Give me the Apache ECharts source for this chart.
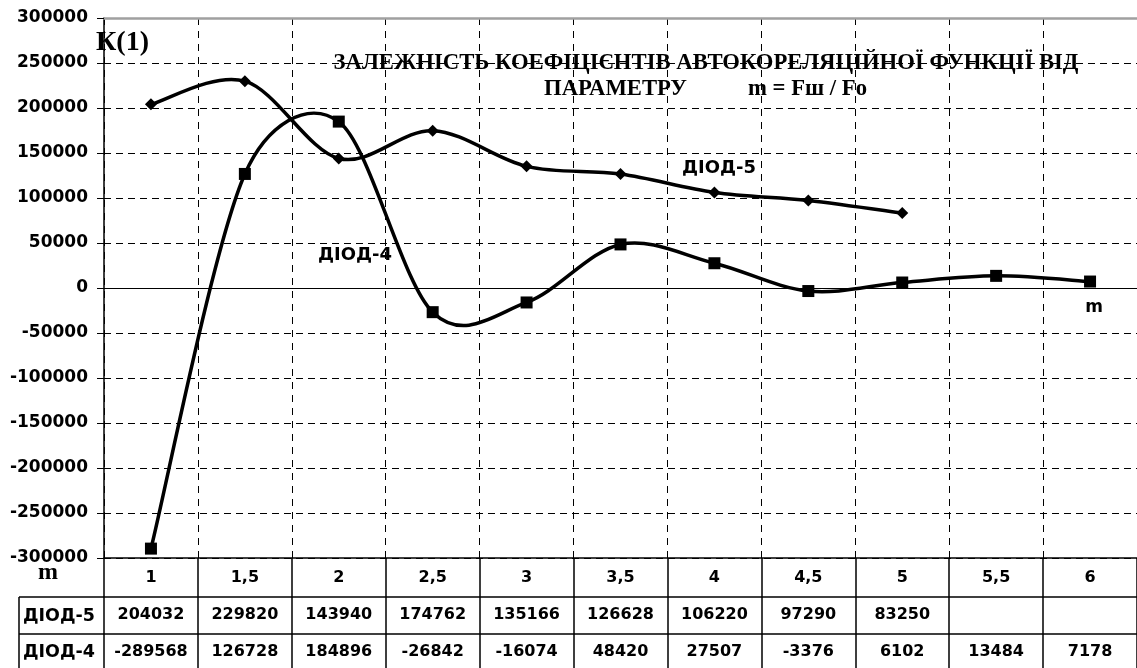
<!DOCTYPE html>
<html>
<head>
<meta charset="utf-8">
<script src="https://cdn.jsdelivr.net/npm/echarts@6/dist/echarts.min.js"></script>
<style>
html,body{margin:0;padding:0;background:#fff;}
#c{width:1137px;height:668px;}
</style>
</head>
<body>
<div id="c"></div>
<script>
// ---- data ----
var categories = ['1', '1,5', '2', '2,5', '3', '3,5', '4', '4,5', '5', '5,5', '6'];
var diod5 = [204032, 229820, 143940, 174762, 135166, 126628, 106220, 97290, 83250, null, null];
var diod4 = [-289568, 126728, 184896, -26842, -16074, 48420, 27507, -3376, 6102, 13484, 7178];
var seriesNames = ['ДІОД-5', 'ДІОД-4'];
var yMin = -300000, yMax = 300000, yStep = 50000;
var titleLine1 = 'ЗАЛЕЖНІСТЬ КОЕФІЦІЄНТІВ АВТОКОРЕЛЯЦІЙНОЇ ФУНКЦІЇ ВІД';
var titleLine2a = 'ПАРАМЕТРУ';
var titleLine2b = 'm = Fш / Fо';
var yName = 'К(1)';
var xName = 'm';

var SANS = '"DejaVu Sans", sans-serif';
var SERIF = '"Liberation Serif", "Times New Roman", serif';

function fmt(v) { return v == null ? '' : String(v); }

var chart = echarts.init(document.getElementById('c'), null, {renderer: 'canvas'});

var gridLeft = 104, gridTop = 18, gridRight = -9, gridBottom = 110;
var rowH1 = 39, rowH2 = 37;

var tableLabel = function (margin) {
  return {show: true, interval: 0, margin: margin, color: '#000', fontFamily: SANS, fontWeight: 'bold', fontSize: 16};
};

// Excel-like smoothed curve (cardinal spline through the data points, drawn in axis coordinates)
function dist(a, b) { return Math.sqrt((a[0] - b[0]) * (a[0] - b[0]) + (a[1] - b[1]) * (a[1] - b[1])); }
function smoothRenderer(arr) {
  return function (params, api) {
    var i = params.dataIndex, n = arr.length;
    if (i >= n - 1 || arr[i] == null || arr[i + 1] == null) return null;
    var P = function (k) { return api.coord([k, arr[k]]); };
    var p1 = P(i), p2 = P(i + 1);
    var p0 = (i > 0 && arr[i - 1] != null) ? P(i - 1) : p1;
    var p3 = (i + 2 < n && arr[i + 2] != null) ? P(i + 2) : p2;
    var d12 = dist(p1, p2), d02 = dist(p0, p2), d13 = dist(p1, p3);
    var f1 = 1 / 6, f2 = 1 / 6;
    if (d02 / 6 > d12 / 2) f1 = d12 / (2 * d02);
    if (d13 / 6 > d12 / 2) f2 = d12 / (2 * d13);
    return {
      type: 'bezierCurve',
      shape: {
        x1: p1[0], y1: p1[1],
        cpx1: p1[0] + (p2[0] - p0[0]) * f1, cpy1: p1[1] + (p2[1] - p0[1]) * f1,
        cpx2: p2[0] - (p3[0] - p1[0]) * f2, cpy2: p2[1] - (p3[1] - p1[1]) * f2,
        x2: p2[0], y2: p2[1]
      },
      style: {stroke: '#000', lineWidth: 3.5, fill: 'none', lineCap: 'round'}
    };
  };
}
function pairs(arr) { return arr.map(function (v, i) { return [i, v == null ? '-' : v]; }); }

var option = {
  animation: false,
  backgroundColor: '#fff',
  grid: {left: gridLeft, top: gridTop, right: gridRight, bottom: gridBottom, containLabel: false},
  xAxis: [
    { // zero axis + vertical gridlines
      type: 'category', data: categories, boundaryGap: true,
      axisLine: {show: true, onZero: true, lineStyle: {color: '#000', width: 1}},
      axisTick: {show: false}, axisLabel: {show: false},
      splitLine: {show: true, interval: 0, lineStyle: {color: '#000', width: 1, type: [7, 6]}}
    },
    { // category row of the table
      type: 'category', data: categories, position: 'bottom', offset: 0,
      axisLine: {show: true, onZero: false, lineStyle: {color: '#000', width: 1.5}},
      axisTick: {show: true, interval: 0, length: rowH1, lineStyle: {color: '#000', width: 1.5}},
      axisLabel: tableLabel(12), splitLine: {show: false}
    },
    { // diod5 row
      type: 'category', data: diod5.map(fmt), position: 'bottom', offset: rowH1,
      axisLine: {show: true, onZero: false, lineStyle: {color: '#000', width: 1.5}},
      axisTick: {show: true, interval: 0, length: rowH2, lineStyle: {color: '#000', width: 1.5}},
      axisLabel: tableLabel(10), splitLine: {show: false}
    },
    { // diod4 row
      type: 'category', data: diod4.map(fmt), position: 'bottom', offset: rowH1 + rowH2,
      axisLine: {show: true, onZero: false, lineStyle: {color: '#000', width: 1.5}},
      axisTick: {show: true, interval: 0, length: 40, lineStyle: {color: '#000', width: 1.5}},
      axisLabel: tableLabel(10), splitLine: {show: false}
    },
    { // top border
      type: 'category', data: categories, position: 'top',
      axisLine: {show: true, onZero: false, lineStyle: {color: '#a0a0a0', width: 2.5}},
      axisTick: {show: false}, axisLabel: {show: false}, splitLine: {show: false}
    }
  ],
  yAxis: [{
    type: 'value', min: yMin, max: yMax, interval: yStep,
    axisLine: {show: true, lineStyle: {color: '#000', width: 1.5}},
    axisTick: {show: true, inside: false, length: 7, lineStyle: {color: '#000', width: 1}},
    axisLabel: {show: true, margin: 16, color: '#000', fontFamily: SANS, fontWeight: 'bold', fontSize: 17,
      formatter: function (v) { return String(v); }},
    splitLine: {show: true, lineStyle: {color: '#000', width: 1, type: [7, 5]}}
  }],
  series: [
    {
      name: seriesNames[0] + ' curve', type: 'custom', data: pairs(diod5), xAxisIndex: 0, yAxisIndex: 0,
      encode: {x: 0, y: 1}, renderItem: smoothRenderer(diod5), z: 4, silent: true
    },
    {
      name: seriesNames[1] + ' curve', type: 'custom', data: pairs(diod4), xAxisIndex: 0, yAxisIndex: 0,
      encode: {x: 0, y: 1}, renderItem: smoothRenderer(diod4), z: 4, silent: true
    },
    {
      name: seriesNames[0], type: 'line', data: diod5, xAxisIndex: 0, yAxisIndex: 0,
      symbol: 'diamond', symbolSize: 12, showAllSymbol: true,
      lineStyle: {opacity: 0}, itemStyle: {color: '#000'}, z: 5
    },
    {
      name: seriesNames[1], type: 'line', data: diod4, xAxisIndex: 0, yAxisIndex: 0,
      symbol: 'rect', symbolSize: 12, showAllSymbol: true,
      lineStyle: {opacity: 0}, itemStyle: {color: '#000'}, z: 5
    }
  ],
  graphic: [
    {type: 'text', left: 96, top: 29, style: {text: yName, font: 'bold 28px ' + SERIF, fill: '#000'}},
    {type: 'text', x: 706, y: 63, style: {text: titleLine1, font: 'bold 22.7px ' + SERIF, fill: '#000', textAlign: 'center', textVerticalAlign: 'middle'}},
    {type: 'text', x: 687, y: 89, style: {text: titleLine2a, font: 'bold 22.7px ' + SERIF, fill: '#000', textAlign: 'right', textVerticalAlign: 'middle'}},
    {type: 'text', x: 748, y: 89, style: {text: titleLine2b, font: 'bold 22.7px ' + SERIF, fill: '#000', textAlign: 'left', textVerticalAlign: 'middle'}},
    {type: 'text', x: 682, y: 168, style: {text: seriesNames[0], font: 'bold 18px ' + SANS, fill: '#000', textAlign: 'left', textVerticalAlign: 'middle'}},
    {type: 'text', x: 318, y: 255, style: {text: seriesNames[1], font: 'bold 18px ' + SANS, fill: '#000', textAlign: 'left', textVerticalAlign: 'middle'}},
    {type: 'text', x: 1094, y: 308, style: {text: xName, font: 'bold 17px ' + SANS, fill: '#000', textAlign: 'center', textVerticalAlign: 'middle'}},
    {type: 'text', x: 48, y: 573, style: {text: xName, font: 'bold 24px ' + SERIF, fill: '#000', textAlign: 'center', textVerticalAlign: 'middle'}},
    // left header column of the data table
    {type: 'line', shape: {x1: 19, y1: 597, x2: 104, y2: 597}, style: {stroke: '#000', lineWidth: 1.5}},
    {type: 'line', shape: {x1: 19, y1: 634, x2: 104, y2: 634}, style: {stroke: '#000', lineWidth: 1.5}},
    {type: 'line', shape: {x1: 19, y1: 597, x2: 19, y2: 668}, style: {stroke: '#000', lineWidth: 1.5}},
    {type: 'text', x: 59, y: 616, style: {text: seriesNames[0], font: 'bold 17.5px ' + SANS, fill: '#000', textAlign: 'center', textVerticalAlign: 'middle'}},
    {type: 'text', x: 59, y: 652, style: {text: seriesNames[1], font: 'bold 17.5px ' + SANS, fill: '#000', textAlign: 'center', textVerticalAlign: 'middle'}}
  ]
};
chart.setOption(option);
</script>
</body>
</html>
